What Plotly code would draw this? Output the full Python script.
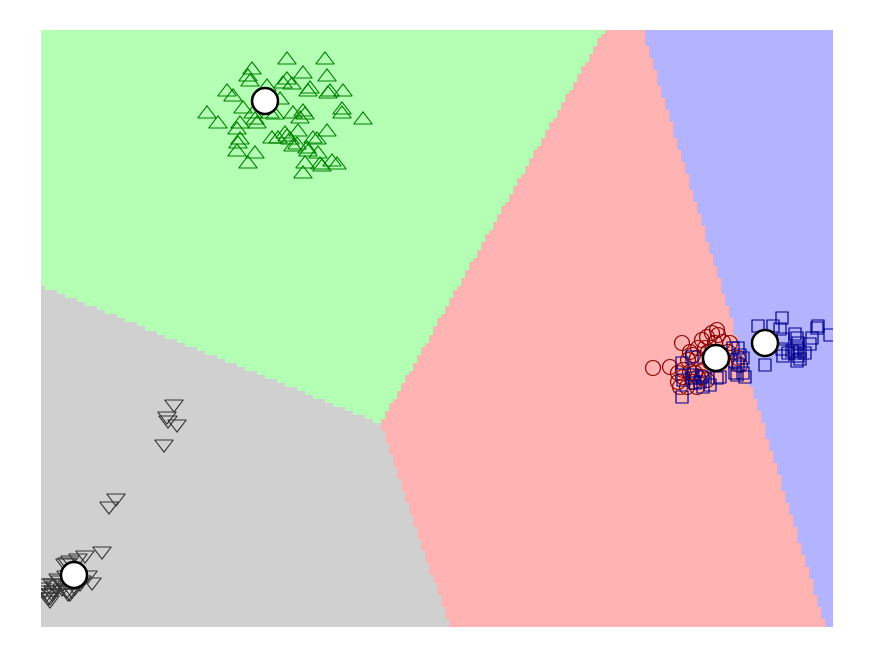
import numpy as np
import plotly.graph_objects as go

# Cluster centers (data units)
center_x = [74, 265, 716, 765]
center_y = [575, 101, 358, 343]
region_colors = ["#d0d0d0", "#b3ffb3", "#ffb3b3", "#b3b3ff"]

# Cluster 0: grey down-triangles
gray_x = [174, 167, 168, 177, 164, 116, 109, 102, 85, 78, 70, 67, 65, 92, 82, 80, 75, 72, 70,
          43, 42, 45, 47, 48, 50, 52, 55, 53, 52, 50, 60, 63, 62, 67, 68, 88, 74, 66, 58]
gray_y = [404, 416, 420, 424, 444, 498, 506, 551, 555, 558, 560, 562, 563, 582, 580, 583, 587, 590, 593,
          583, 587, 590, 593, 597, 600, 583, 585, 590, 593, 597, 580, 583, 588, 590, 593, 575, 570, 575, 578]

# Cluster 1: green up-triangles
green_x = [287, 325, 252, 248, 250, 303, 327, 287, 283, 292, 267, 310, 308, 330, 328, 343, 227, 233,
           243, 253, 255, 257, 207, 218, 240, 237, 270, 275, 280, 293, 303, 305, 300, 342, 342, 363,
           327, 285, 287, 290, 272, 278, 298, 240, 238, 237, 255, 248, 293, 297, 307, 308, 313, 317,
           305, 303, 320, 322, 332, 337, 318]
green_y = [60, 60, 70, 77, 82, 74, 77, 80, 84, 85, 87, 89, 92, 92, 94, 92, 92, 97,
           109, 114, 120, 124, 114, 124, 124, 130, 114, 115, 100, 114, 112, 115, 119, 110, 114, 120,
           132, 134, 137, 140, 139, 139, 132, 140, 144, 152, 154, 164, 147, 145, 149, 152, 139, 140,
           164, 174, 165, 167, 162, 165, 154]

# Cluster 2: red circles
red_x = [653, 670, 682, 690, 688, 693, 697, 678, 683, 678, 680, 690, 695, 698, 703, 698, 702, 707,
         712, 717, 718, 715, 705, 708, 723, 730, 728, 738, 740, 687, 693, 697, 702, 707, 683, 710]
red_y = [368, 367, 343, 352, 360, 355, 358, 373, 370, 382, 387, 372, 373, 377, 370, 348, 340, 337,
         333, 330, 335, 343, 348, 352, 342, 343, 352, 358, 365, 387, 382, 387, 377, 380, 377, 362]

# Cluster 3: blue squares
blue_x = [682, 683, 692, 692, 695, 700, 702, 703, 710, 717, 720, 735, 737, 735, 740, 743, 738, 745,
          682, 693, 733, 738, 782, 758, 773, 780, 818, 817, 830, 812, 783, 795, 797, 798, 797, 800,
          795, 798, 800, 797, 805, 810, 782, 783, 788, 765, 792, 743]
blue_y = [363, 380, 357, 378, 383, 382, 377, 387, 385, 378, 377, 373, 375, 362, 355, 358, 365, 377,
          397, 375, 348, 348, 318, 326, 326, 329, 326, 328, 335, 338, 339, 334, 338, 343, 348, 351,
          353, 356, 359, 361, 353, 344, 349, 356, 353, 365, 351, 373]

# Background: nearest-center regions on a mesh
x0, x1, y0, y1 = 41, 833, 30, 627
nx, ny = 198, 149
gx = x0 + (np.arange(nx) + 0.5) * (x1 - x0) / nx
gy = y0 + (np.arange(ny) + 0.5) * (y1 - y0) / ny
GX, GY = np.meshgrid(gx, gy)
cx = np.array(center_x)[:, None, None]
cy = np.array(center_y)[:, None, None]
Z = np.argmin((GX[None] - cx) ** 2 + (GY[None] - cy) ** 2, axis=0)

cs = []
for i, c in enumerate(region_colors):
    cs.append([i / 4, c])
    cs.append([(i + 1) / 4, c])

fig = go.Figure()
fig.add_trace(go.Heatmap(x=gx, y=gy, z=Z, colorscale=cs, zmin=-0.5, zmax=3.5,
                         showscale=False, hoverinfo="skip"))

def add(xs, ys, symbol, color, size, width=1.2):
    fig.add_trace(go.Scatter(x=xs, y=ys, mode="markers",
                             marker=dict(symbol=symbol, size=size, color=color,
                                         line=dict(color=color, width=width))))

add(green_x, green_y, "triangle-up-open", "#008000", 16)
add(gray_x, gray_y, "triangle-down-open", "#333333", 16)
add(red_x, red_y, "circle-open", "#8b0000", 15)
add(blue_x, blue_y, "square-open", "#00008b", 12)

fig.add_trace(go.Scatter(x=center_x, y=center_y, mode="markers",
                         marker=dict(symbol="circle", size=26, color="white",
                                     line=dict(color="black", width=2.5))))

fig.update_layout(width=875, height=656, margin=dict(l=41, r=42, t=30, b=29),
                  showlegend=False, plot_bgcolor="white", paper_bgcolor="white",
                  xaxis=dict(range=[x0, x1], visible=False, showgrid=False, zeroline=False),
                  yaxis=dict(range=[y1, y0], visible=False, showgrid=False, zeroline=False))

fig.write_html("out.html")
